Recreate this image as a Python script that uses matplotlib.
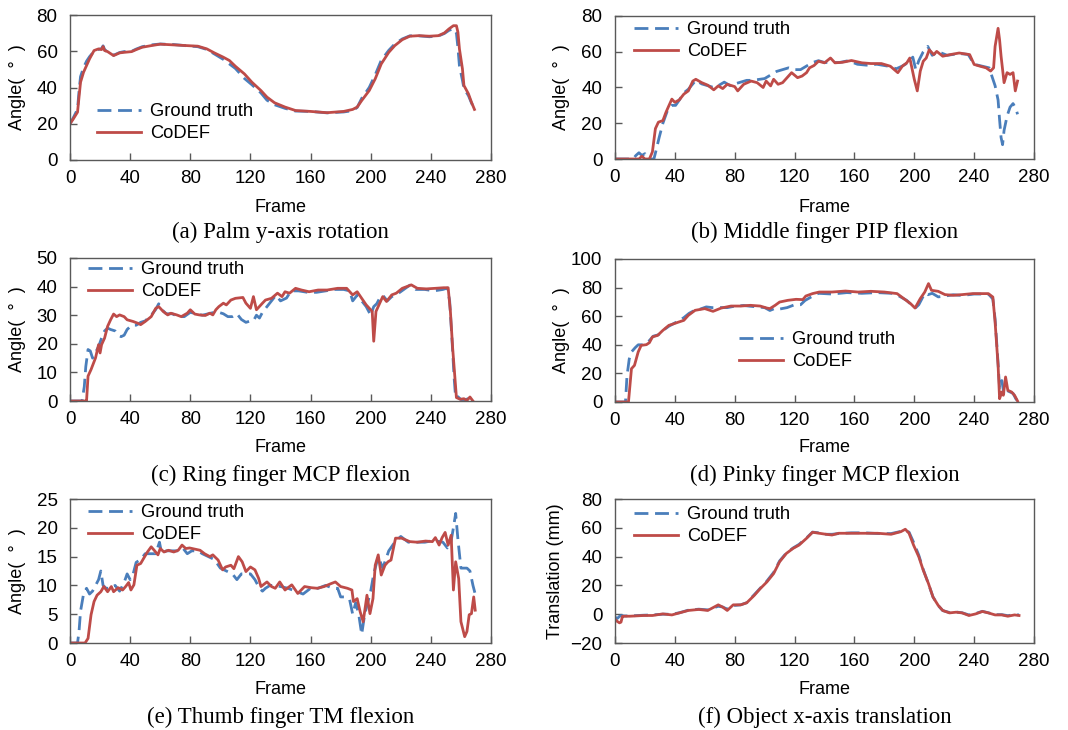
import numpy as np
import matplotlib
matplotlib.use("Agg")
import matplotlib.pyplot as plt


# -----------------------------
# Data (frame, value)
# -----------------------------
# (a) Palm y-axis rotation (both series share the frame samples)
A_FRAMES = [0, 2, 5, 6, 7, 9, 11, 13, 16, 19,
            21, 22, 23, 25, 29, 33, 36, 41, 44, 48,
            54, 60, 69, 78, 85, 91, 96, 102, 106, 110,
            116, 121, 127, 131, 136, 143, 150, 160, 171, 182,
            188, 191, 194, 199, 203, 207, 212, 216, 221, 226,
            232, 239, 245, 249, 252, 255, 257, 258, 259, 261,
            262, 265, 267, 269]
A_GT = [20, 23, 28, 38, 46, 51, 54.5, 57, 60, 61,
        61.5, 63, 61, 59.5, 57.8, 59.3, 59.8, 60, 61.2, 62.5,
        63.5, 64, 63.7, 63, 62.5, 61, 58.5, 55.5, 53, 50.5,
        45, 41.5, 37, 33, 30.5, 28.5, 27, 26.8, 26, 26.5,
        27.2, 29, 34, 40, 47, 55, 60.5, 64, 66.8, 68.5,
        68.5, 68, 68.4, 69.8, 71.5, 72.5, 70, 62, 52, 44,
        39.5, 35.5, 31.5, 28]
A_CODEF = [20.0, 22.4, 26.4, 34.7, 42.9, 48.4, 52.1, 55.8, 60.4, 61.3,
           60.9, 62.6, 60.4, 59.8, 57.6, 59.1, 59.4, 59.8, 60.9, 62.2,
           63.1, 63.9, 63.5, 63.1, 62.8, 61.3, 59.1, 56.7, 54.9, 51.7,
           47.5, 42.9, 38.3, 34.7, 31.6, 29.2, 27.3, 26.8, 26.1, 26.8,
           27.9, 29.2, 32.8, 38.3, 44.8, 53.0, 59.4, 63.1, 66.4, 68.3,
           68.6, 68.3, 68.6, 70.1, 72.3, 74.1, 74.1, 70.5, 61.3, 50.3,
           41.1, 36.5, 31.9, 27.9]

# (b) Middle finger PIP flexion
B_GT_FRAMES = [0, 12, 14, 16, 18, 20, 22, 26, 27.5, 29.5,
               32, 35, 38, 40.5, 43, 46, 49, 52, 54, 58,
               62, 66, 69, 73, 77, 80, 84, 88, 92, 96,
               100, 104, 108, 112, 116, 120, 124, 128, 132, 136,
               140, 145, 150, 156, 162, 168, 175, 182, 188, 192,
               196, 199, 201, 203, 206, 209, 212, 216, 222, 230,
               236, 240, 245, 250, 252, 254, 256, 257, 258, 259,
               260, 262, 264, 266, 268, 269]
B_GT = [0, 0, 2, 3.5, 2, 3, 0, 0, 5, 12,
        20, 27, 30, 30, 33, 37, 39, 42, 44, 42,
        41, 40, 41, 43, 41, 42, 43, 44, 44, 44.5,
        45, 47, 49, 50, 51, 50, 50, 52, 54, 55,
        54, 54, 54, 55, 53, 52.5, 53, 52, 50.5, 52,
        54, 57, 50, 55, 60, 63, 58, 60, 58, 59,
        58.5, 53, 52, 51, 46, 41, 33, 22, 12, 8,
        16, 24, 29, 31, 28, 25]
B_CODEF_FRAMES = [0, 10, 16, 18, 20, 23, 25, 26, 27, 29,
                  32, 34, 36, 38, 40, 43, 46, 49, 52, 54,
                  58, 62, 66, 69, 72, 75, 80, 82, 86, 91,
                  95, 99, 101, 104, 106, 109, 112, 115, 118, 122,
                  125, 128, 130, 133, 136, 140, 144, 147, 152, 158,
                  165, 171, 178, 184, 189, 192, 195, 197, 200, 202,
                  204, 206, 208, 210, 213, 215, 219, 224, 230, 237,
                  240, 244, 248, 251, 253, 254, 256, 257, 258, 260,
                  262, 264, 266, 267.5, 269]
B_CODEF = [0, 0, 0, 1.5, 0, 0, 4, 10.5, 17, 20.6,
           21.5, 26, 29.8, 33.5, 31.7, 33.1, 36.3, 38.1, 43.6, 44.6,
           42.7, 41.3, 38.7, 40.9, 39.4, 41.8, 40.5, 38.1, 41.8, 43.6,
           42.7, 40, 43.6, 40.9, 44.6, 41.8, 42.7, 45.5, 48.3, 45.5,
           46.4, 48.3, 51, 52.3, 54.7, 53.8, 56.5, 53.8, 54.1, 55.1,
           53.8, 53.4, 53.4, 51.9, 48.3, 51.9, 53.8, 56.5, 44.6, 38.1,
           49.2, 54.7, 56.5, 61.1, 58.4, 60.2, 57.5, 58.4, 59.3, 58.4,
           52.9, 51.9, 51, 49.2, 51, 63, 73.1, 66.7, 57.5, 42.7,
           48.3, 47.3, 48.3, 38.1, 43.6]

# (c) Ring finger MCP flexion
C_GT_FRAMES = [0, 8, 9.5, 10.5, 12, 13.5, 15, 17, 19, 21,
               23, 25, 27, 30, 32, 34, 36, 38, 41, 44,
               47, 50, 54, 57, 59, 61, 64, 68, 72, 76,
               80, 84, 88, 92, 96, 99, 102, 105, 108, 111,
               114, 117, 120, 122, 124, 126, 128, 131, 134, 137,
               140, 144, 147, 152, 158, 164, 170, 176, 182, 186,
               188, 191, 194, 197, 200, 202, 204, 206, 208, 211,
               214, 218, 222, 226, 230, 236, 242, 248, 251, 252.5,
               254, 255.5, 256.5, 258, 260, 263, 266, 268]
C_GT = [0, 0, 5, 12, 18, 17.5, 15, 17, 19, 22,
        24.5, 25.5, 25, 24.5, 23, 22.5, 23, 25, 26.5, 26.5,
        27.5, 28, 30, 32, 34, 32, 30.5, 30.5, 29.5, 29.5,
        31, 30.5, 30, 30.5, 31, 31, 30.5, 29.5, 29.5, 30.5,
        28.5, 27.5, 28, 28, 30, 29, 31, 33, 35, 37,
        35, 36, 38.5, 38.5, 38, 38, 38.5, 39, 39, 38.5,
        35, 37, 35, 33, 30, 33, 34, 36, 37, 35,
        36.5, 37.5, 39, 40.5, 39, 39, 38.5, 39, 39.5, 35,
        22, 8, 1, 1.5, 0.5, 0.5, 1, 0]
C_CODEF_FRAMES = [0, 10, 11, 12, 14, 17, 19, 20, 21, 23,
                  25, 27, 29, 31, 33, 36, 38, 42, 45, 47,
                  50, 54, 57, 59, 62, 65, 67, 71, 74, 78,
                  80, 83, 86, 90, 93, 95, 97, 99, 102, 104,
                  107, 110, 115, 117, 120, 122, 124, 128, 130, 134,
                  138, 141, 143, 146, 150, 154, 159, 165, 171, 178,
                  184, 188, 191, 194, 197, 201, 202, 203.5, 206, 208,
                  210.5, 214, 217, 221, 227, 231, 237, 243, 248.5, 251.5,
                  253, 254.5, 256, 257, 259.5, 262, 264, 266, 268]
C_CODEF = [0, 0, 0, 8.7, 11, 15.1, 19.7, 16.8, 19.7, 22,
           26.1, 28.4, 30.4, 29.5, 30.1, 29.5, 28.4, 27.8, 27.2, 26.7,
           27.8, 29.5, 32.4, 33, 31.3, 30.1, 30.7, 30.1, 29.5, 30.7,
           31.9, 30.4, 30.1, 29.9, 30.7, 30.1, 31.9, 33, 34.2, 33.6,
           35.3, 35.9, 36.2, 34.2, 32.4, 36.5, 31.9, 34.2, 35.3, 35.9,
           37.7, 36.5, 38.2, 37.7, 39.4, 38.8, 38.2, 38.8, 38.8, 39.4,
           39.4, 37.1, 38.2, 35.9, 33.6, 31.3, 20.9, 31.3, 34.2, 36.5,
           34.8, 37.1, 37.7, 39.4, 40.6, 39.4, 39.2, 39.4, 39.6, 39.6,
           31.3, 18.5, 8.1, 1.2, 0.6, 0.8, 0.2, 1.4, 0]

# (d) Pinky finger MCP flexion
D_GT_FRAMES = [0, 7, 8, 9.5, 11, 13.5, 15.5, 18, 21, 23,
               25.5, 29, 32, 36, 39.5, 43, 46, 49.5, 53, 57,
               61, 65, 70, 75, 80, 86, 90, 95, 100, 103.5,
               107, 110, 115, 120, 124, 127, 132, 136, 145, 155,
               165, 175, 185, 190, 195, 199, 201, 203, 205, 207,
               209, 212, 216, 220, 226, 232, 240, 247, 250, 252.5,
               254, 255.5, 257, 258.5, 260, 262, 264, 266, 268, 269]
D_GT = [0, 0, 18, 30, 35, 38, 40, 40, 41, 43,
        46, 47, 50, 53, 55, 57, 59, 62, 64, 65,
        66.5, 66, 66, 66, 67, 67.5, 67, 66.5, 66, 64,
        65.5, 65, 66, 68, 68, 71, 74, 76, 75.5, 76.5,
        76, 76.5, 76, 74, 71, 67, 66, 68, 72, 76,
        75, 76, 73.5, 74, 75, 74.5, 75.5, 75.5, 75, 72,
        58, 35, 10, 15, 5, 8, 7, 6, 2, 1]
D_CODEF_FRAMES = [0, 9, 10, 11, 13, 15.5, 17.5, 21, 23, 25,
                  28.5, 32, 36, 39.5, 42.5, 46, 49, 53.5, 60, 65.5,
                  71, 77.5, 84, 90.5, 97, 101.5, 103.5, 107, 110, 115.5,
                  121, 125.5, 127.5, 132, 136.5, 145, 154, 162.5, 171, 180,
                  188.5, 193, 197.5, 200.5, 204, 207, 209.5, 211.5, 216, 220.5,
                  226, 232, 239, 245, 249.5, 252.5, 254, 256, 257, 258.5,
                  259.5, 261, 262.5, 265, 267, 269]
D_CODEF = [0, 0, 11.7, 23.3, 25.6, 35, 39.6, 40.1, 41.5, 45.5,
           46.6, 50.1, 53.6, 54.8, 55.9, 57.1, 60.6, 64.1, 65.3, 63.4,
           65.7, 67.1, 67.1, 67.6, 67.1, 65.7, 65.3, 67.6, 69.9, 71.1,
           71.8, 71.6, 74.1, 75.8, 76.9, 76.9, 77.6, 76.9, 77.4, 76.9,
           75.8, 72.3, 68.8, 65.7, 72.3, 76.9, 82.8, 78.1, 77.4, 75.1,
           74.6, 75.1, 75.8, 75.8, 75.8, 73.4, 55.9, 25.6, 2.3, 7,
           4.7, 17.5, 8.2, 7, 4.7, 0.7]

# (e) Thumb finger TM flexion
E_GT_FRAMES = [0, 5, 6, 7, 9, 11, 13, 15, 17, 19,
               20.5, 22, 24, 27, 30, 33, 36, 38, 40, 42,
               44, 47, 50, 54, 57, 59.5, 61, 64, 68, 72,
               75, 78, 81, 85, 88, 92, 96, 100, 104, 108,
               111, 114, 117, 120, 123, 126, 128, 130, 133, 136,
               140, 145, 150, 155, 160, 165, 170, 175, 178, 180,
               183, 186, 188, 190, 192, 194, 196, 198, 200, 202,
               205, 208, 212, 216, 220, 225, 230, 236, 242, 248,
               251, 253, 255, 256.5, 258, 260, 262, 264, 266, 268,
               269.5]
E_GT = [0, 0, 2, 5.5, 8.5, 9.5, 8.5, 9, 10, 11,
        12.5, 10, 9.5, 9.5, 10, 9, 10.5, 12, 11, 12,
        14, 14.5, 15.5, 15.5, 15.5, 17.5, 15.5, 16, 16, 16,
        16.5, 15.5, 16, 16, 15.5, 15, 14.5, 13, 12.5, 12,
        11, 12, 12, 12, 11, 9.5, 9, 9.5, 10, 10,
        9.8, 9.5, 9, 8.5, 9.5, 9.5, 10, 9.5, 9.5, 8,
        8, 7.5, 5, 7, 5, 1.5, 5, 7, 9, 12,
        15, 13, 16, 17.5, 18.5, 17.5, 17.5, 17.5, 17.8, 17.5,
        16.5, 17, 20, 22.5, 18, 13, 13, 13, 12.5, 10,
        8.5]
E_CODEF_FRAMES = [0, 10, 12, 14, 16, 18, 20.5, 22.5, 25, 27.5,
                  29, 32, 35, 37, 39, 40.5, 42.5, 44.5, 47, 49,
                  51.5, 54, 56, 58.5, 60, 62.5, 65.5, 69, 72, 74.5,
                  77, 79.5, 83, 86.5, 89.5, 93, 95, 98.5, 101.5, 103.5,
                  107, 109, 112, 114.5, 117, 120, 123, 125.5, 127, 131,
                  134, 136.5, 139.5, 143, 147.5, 151.5, 156, 160.5, 164.5, 169,
                  173.5, 176.5, 180, 184.5, 187.5, 188.5, 191, 193, 195, 197.5,
                  199.5, 201.5, 203, 205, 207, 209.5, 211.5, 213.5, 216.5, 220.5,
                  226, 231, 236.5, 241, 243, 245.5, 247.5, 249.5, 251.5, 253.5,
                  255, 256.5, 258.5, 260, 262.5, 264, 265.5, 267, 268.5, 269.5]
E_CODEF = [0, 0, 0.8, 4.9, 7.2, 8.3, 8.9, 9.8, 8.9, 9.8,
           8.9, 9.6, 9.2, 9.8, 10.5, 9.2, 10.1, 13.5, 13.8, 14.7,
           15.8, 16.7, 16.1, 15.3, 16.4, 15.8, 16.1, 15.8, 16.1, 17,
           16.4, 16.5, 16.3, 16.1, 15.5, 15, 15.3, 14.4, 12.7, 13.2,
           13.5, 12.9, 15, 14.1, 12.4, 13.2, 12.7, 11.2, 9.8, 10.6,
           9.8, 9.5, 10.6, 9.2, 10.1, 8.6, 9.8, 9.6, 9.5, 9.8,
           10.3, 10.6, 9.8, 9.5, 9.2, 7.2, 7.7, 5.4, 3.7, 8.3,
           5.1, 7.7, 13.5, 15.3, 11.8, 13.5, 14.1, 14.4, 18.2, 18.2,
           17.6, 17.5, 17.7, 17.6, 18.3, 17, 18.3, 19.2, 17, 18.7,
           9.2, 14.1, 11.2, 3.7, 1.1, 2, 4.9, 5.1, 8, 5.7]

# (f) Object x-axis translation (both series share the frame samples)
F_FRAMES = [0, 1.5, 3, 4, 5, 6, 10, 19, 25, 32,
            38, 43, 49, 56, 62, 69, 72, 75, 79, 84,
            88, 93, 97, 101.5, 106, 110, 114.5, 119, 123, 128,
            132, 136.5, 141, 145, 149.5, 158, 167, 175.5, 184.5, 191,
            194, 196.5, 199.5, 203, 206, 209.5, 212.5, 216, 219, 223.5,
            228, 232, 236.5, 241, 245.5, 249.5, 254, 258.5, 262.5, 267,
            270]
F_GT = [-2, -3, -1.5, -1, -1, -1.2, -1.2, -0.7, -0.5, 0,
        0, 1, 2.8, 3.5, 3, 5.5, 5, 3.5, 6, 6.5,
        8, 13.5, 18, 23, 29, 37, 42.5, 46, 48.5, 53,
        57, 56.5, 55.5, 55.5, 56, 56.5, 56.5, 56, 56, 57.5,
        58, 57, 50, 41, 31, 21, 12, 6, 2.5, 1.2,
        1.5, 1, -0.5, 0.5, 2, 1, -0.3, -0.3, -1, -0.3,
        -0.5]
F_CODEF = [-3.5, -5, -6, -5.5, -1.5, -1.4, -1.4, -0.9, -0.9, 0.2,
           -0.5, 0.9, 2.6, 3.3, 2.6, 6.5, 4.9, 2.6, 6.5, 6.5,
           7.9, 13, 17.7, 22.4, 28.2, 36.4, 42.2, 45.7, 48, 52.7,
           56.9, 56.2, 55.5, 55, 56.2, 56.2, 56.2, 56.2, 55.5, 57.3,
           59, 56.2, 48, 39.9, 30.5, 21.2, 11.9, 6.1, 2.6, 0.9,
           1.4, 0.9, -0.9, 0.2, 1.9, 0.9, -0.5, -0.5, -1.4, -0.5,
           -0.9]

CAPTIONS = ["(a) Palm y-axis rotation", "(b) Middle finger PIP flexion",
            "(c) Ring finger MCP flexion", "(d) Pinky finger MCP flexion",
            "(e) Thumb finger TM flexion", "(f) Object x-axis translation"]
Y_LABELS = ["Angle(  °  )"] * 5 + ["Translation (mm)"]
Y_TICKS = [range(0, 81, 20), range(0, 81, 20), range(0, 51, 10),
           range(0, 101, 20), range(0, 26, 5), range(-20, 81, 20)]
X_TICKS = range(0, 281, 40)


# -----------------------------
# Layout / style settings (pixels on a 1068x730 canvas)
# -----------------------------
W, H = 1068, 730
GT_COLOR = "#4A7EBB"
CODEF_COLOR = "#BE4B48"
SPINE_COLOR = "#595959"

# left, top, right, bottom of each plot area
BOXES = [(70, 15, 491, 160), (615, 16, 1034, 159),
         (70, 258, 491, 401), (615, 259, 1034, 402),
         (70, 499, 491, 643), (615, 499, 1034, 643)]
# legend handle left x, first row center y
LEGEND_AT = [(97, 110), (634, 28), (88, 268), (739, 338), (88, 511), (634, 513)]
FRAME_Y = [207, 207, 447, 447, 690, 690]
CAPTION_Y = [232, 232, 475, 475, 717, 717]
YLABEL_X = [18, 562, 18, 562, 18, 556]

plt.rcParams["font.family"] = ["Liberation Sans", "DejaVu Sans"]


def draw_panel(fig, i, gt_x, gt_y, cd_x, cd_y):
    left, top, right, bottom = BOXES[i]
    ax = fig.add_axes([left / W, 1 - bottom / H, (right - left) / W, (bottom - top) / H])

    ax.plot(gt_x, gt_y, color=GT_COLOR, lw=2.0, dashes=(5, 2.4), label="Ground truth")
    ax.plot(cd_x, cd_y, color=CODEF_COLOR, lw=2.0, label="CoDEF")

    yt = list(Y_TICKS[i])
    ax.set_xlim(0, 280)
    ax.set_ylim(yt[0], yt[-1])
    ax.set_xticks(list(X_TICKS))
    ax.set_yticks(yt)
    ax.tick_params(direction="in", length=5, width=1, color=SPINE_COLOR,
                   labelsize=13.5, top=False, right=False)
    ax.tick_params(axis="x", pad=7)
    ax.tick_params(axis="y", pad=9)
    for sp in ax.spines.values():
        sp.set_color(SPINE_COLOR)
        sp.set_linewidth(1)

    ax.set_ylabel(Y_LABELS[i], fontsize=13, va="center")
    ax.yaxis.set_label_coords((YLABEL_X[i] - left) / (right - left), 0.5)

    cx = (left + right) / 2
    fig.text(cx / W, 1 - FRAME_Y[i] / H, "Frame", fontsize=13, ha="center", va="center")
    fig.text(cx / W, 1 - CAPTION_Y[i] / H, CAPTIONS[i], fontsize=16.5,
             family="Liberation Serif", ha="center", va="center")

    lx, ly = LEGEND_AT[i]
    ax.legend(loc="upper left", bbox_to_anchor=(lx / W, 1 - (ly - 7) / H),
              bbox_transform=fig.transFigure, frameon=False, fontsize=13.2,
              borderpad=0, borderaxespad=0, handlelength=2.4, handletextpad=0.5,
              labelspacing=0.28)
    return ax


def main():
    fig = plt.figure(figsize=(W / 100, H / 100), dpi=100)

    draw_panel(fig, 0, A_FRAMES, A_GT, A_FRAMES, A_CODEF)
    draw_panel(fig, 1, B_GT_FRAMES, B_GT, B_CODEF_FRAMES, B_CODEF)
    draw_panel(fig, 2, C_GT_FRAMES, C_GT, C_CODEF_FRAMES, C_CODEF)
    draw_panel(fig, 3, D_GT_FRAMES, D_GT, D_CODEF_FRAMES, D_CODEF)
    draw_panel(fig, 4, E_GT_FRAMES, E_GT, E_CODEF_FRAMES, E_CODEF)
    draw_panel(fig, 5, F_FRAMES, F_GT, F_FRAMES, F_CODEF)

    fig.savefig("out.png", dpi=100)
    plt.close(fig)


if __name__ == "__main__":
    main()
